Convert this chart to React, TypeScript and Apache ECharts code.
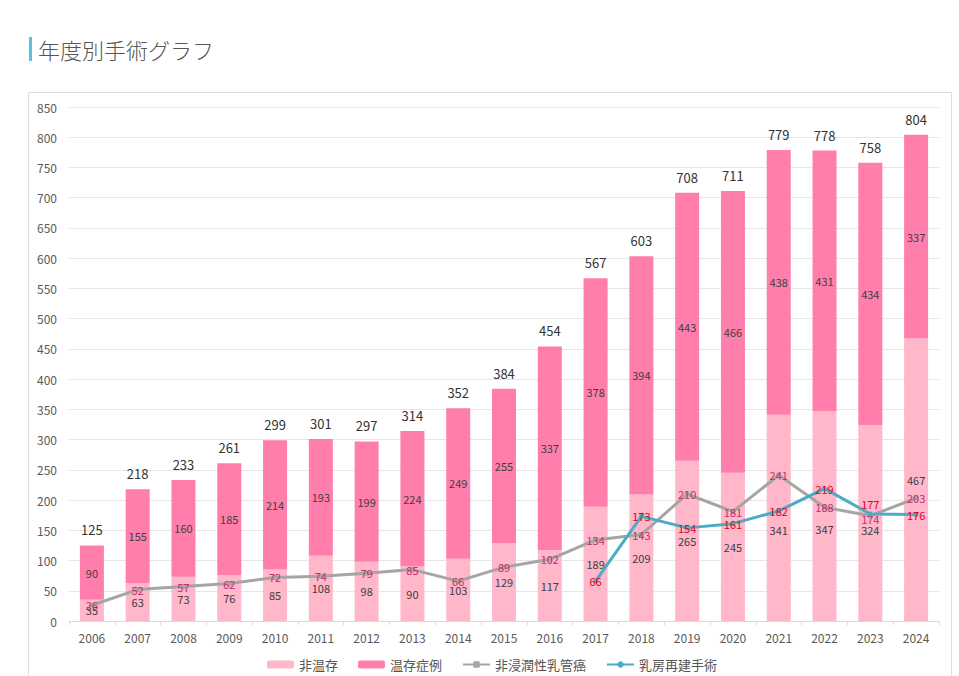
import React, { useEffect, useRef } from "react";
import * as echarts from "echarts";

const years = ["2006","2007","2008","2009","2010","2011","2012","2013","2014","2015","2016","2017","2018","2019","2020","2021","2022","2023","2024"];
const nonConserving = [35, 63, 73, 76, 85, 108, 98, 90, 103, 129, 117, 189, 209, 265, 245, 341, 347, 324, 467];
const conserving = [90, 155, 160, 185, 214, 193, 199, 224, 249, 255, 337, 378, 394, 443, 466, 438, 431, 434, 337];
const dcis = [26, 52, 57, 62, 72, 74, 79, 85, 66, 89, 102, 134, 143, 210, 181, 241, 188, 174, 203];
const reconstruction = [null, null, null, null, null, null, null, null, null, null, null, 66, 173, 154, 161, 182, 219, 177, 176];
const yTicks = { min: 0, max: 850, interval: 50 };

const FONT = "'Noto Sans CJK JP', 'Noto Sans', sans-serif";

// label nudges (pixels) so that labels sit where the reference shows them
const nonConservingLabelShift: Record<number, number> = { 15: 12, 16: 13, 17: 7 };

export default function App() {
  const ref = useRef<HTMLDivElement>(null);
  useEffect(() => {
    if (!ref.current) return;
    const chart = echarts.init(ref.current, undefined, { renderer: "svg" });
    const totals = nonConserving.map((v, i) => v + conserving[i]);
    chart.setOption({
      animation: false,
      textStyle: { fontFamily: FONT },
      graphic: [
        { type: "rect", shape: { x: 29, y: 37, width: 3, height: 24 }, style: { fill: "#5bc0de" } },
        { type: "text", x: 38, y: 49, style: { text: "年度別手術グラフ", fontSize: 22, fill: "#555", fontFamily: FONT, fontWeight: 300, verticalAlign: "middle" } },
        { type: "rect", shape: { x: 28.5, y: 92.5, width: 923, height: 620 }, style: { fill: "none", stroke: "#ddd", lineWidth: 1 } },
      ],
      grid: { left: 69, right: 20, top: 107, bottom: 55, containLabel: false },
      legend: {
        top: 653,
        left: 262,
        itemWidth: 27,
        itemHeight: 8,
        itemGap: 20,
        textStyle: { fontSize: 13, color: "#555", fontFamily: FONT },
        data: ["非温存", "温存症例", "非浸潤性乳管癌", "乳房再建手術"],
      },
      xAxis: {
        type: "category",
        data: years,
        axisLine: { lineStyle: { color: "#d9d9d9" } },
        axisTick: { show: true, length: 4, lineStyle: { color: "#d9d9d9" } },
        axisLabel: { color: "#595959", fontSize: 12, margin: 10 },
      },
      yAxis: {
        type: "value",
        min: yTicks.min,
        max: yTicks.max,
        interval: yTicks.interval,
        axisLine: { show: false },
        axisTick: { show: false },
        axisLabel: { color: "#595959", fontSize: 12, margin: 12 },
        splitLine: { lineStyle: { color: "#e6e6e6" } },
      },
      series: [
        {
          name: "非温存",
          type: "bar",
          stack: "total",
          barWidth: 24,
          data: nonConserving.map((v, i) =>
            nonConservingLabelShift[i] !== undefined
              ? { value: v, label: { offset: [0, nonConservingLabelShift[i]] } }
              : v
          ),
          itemStyle: { color: "#ffb7c9" },
          label: { show: true, position: "inside", color: "#404040", fontSize: 11 },
        },
        {
          name: "温存症例",
          type: "bar",
          stack: "total",
          barWidth: 24,
          data: conserving,
          itemStyle: { color: "#ff7eab" },
          label: { show: true, position: "inside", color: "#404040", fontSize: 11 },
        },
        {
          name: "合計",
          type: "bar",
          stack: "total",
          barWidth: 24,
          data: totals.map(() => 0),
          itemStyle: { color: "transparent" },
          label: {
            show: true,
            position: "top",
            color: "#333",
            fontSize: 13,
            distance: 9,
            formatter: (p: any) => String(totals[p.dataIndex]),
          },
        },
        {
          name: "非浸潤性乳管癌",
          type: "line",
          data: dcis.map((v, i) =>
            i === 17 ? { value: v, label: { offset: [0, 3] } } : v
          ),
          symbol: "rect",
          symbolSize: 5,
          showSymbol: true,
          lineStyle: { color: "#a5a5a5", width: 3 },
          itemStyle: { color: "#a5a5a5" },
          label: { show: true, position: "inside", color: "#c0306a", fontSize: 11 },
          z: 3,
        },
        {
          name: "乳房再建手術",
          type: "line",
          data: reconstruction.map((v, i) =>
            i === 17 ? { value: v, label: { offset: [0, -10] } } : v
          ),
          symbol: "circle",
          symbolSize: 5,
          lineStyle: { color: "#4bacc6", width: 3 },
          itemStyle: { color: "#4bacc6" },
          label: { show: true, position: "inside", color: "#e0001a", fontSize: 11 },
          z: 4,
        },
      ],
    });
    return () => chart.dispose();
  }, []);
  return (
    <div
      ref={ref}
      style={{ position: "fixed", left: 0, top: 0, width: 959, height: 676, background: "#fff" }}
    />
  );
}
